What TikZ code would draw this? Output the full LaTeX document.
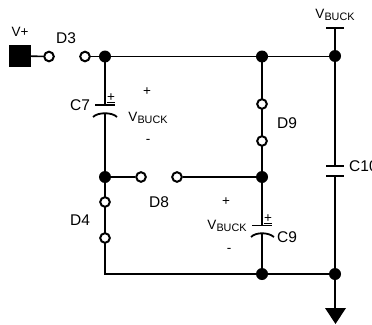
\documentclass[tikz,border=0pt]{standalone}
\usepackage{fontspec}
\setmainfont{Liberation Sans}
\newcommand{\vbuck}{V\raisebox{-2.5pt}{\fontsize{10.8}{12}\selectfont BUCK}}
\begin{document}
\begin{tikzpicture}[x=1pt,y=-1pt,
  wire/.style={line width=1.6pt},
  plate/.style={line width=1.8pt},
  dot/.style={circle,fill=black,draw=none,minimum size=12pt,inner sep=0pt},
  pin/.style={circle,fill=white,draw=black,line width=2pt,minimum size=9.6pt,inner sep=0pt},
  lab/.style={inner sep=0pt,font=\fontsize{15.5}{17}\selectfont},
  small/.style={inner sep=0pt,font=\fontsize{13.5}{15}\selectfont},
  sq/.style={fill=black,draw=none,minimum size=22pt,inner sep=0pt},
  gnd/.style={fill=black,draw=none},
  pol/.style={line width=0.9pt}]
\useasboundingbox (0,0) rectangle (372,324);
\clip (0,0) rectangle (372,324);
% junctions
\coordinate (a) at (105,56.5);
\coordinate (b) at (262,56.5);
\coordinate (c) at (335,56);
\coordinate (d) at (105,177);
\coordinate (e) at (262,177);
\coordinate (f) at (262,274);
\coordinate (g) at (335,274);
\coordinate (h) at (105,274);
\coordinate (vtop) at (335,28);
\coordinate (gtop) at (335,308);
% capacitor terminals
\coordinate (c7a) at (105,105); \coordinate (c7b) at (105,113);
\coordinate (c9a) at (262,225.5); \coordinate (c9b) at (262,233);
\coordinate (c10a) at (335,166); \coordinate (c10b) at (335,176);
% wires
\draw[wire] (a) -- (b) -- (335,56.5);
\draw[wire] (vtop) -- (c) -- (c10a);
\draw[wire] (c10b) -- (g) -- (gtop);
\draw[wire] (a) -- (c7a);
\draw[wire] (c7b) -- (d);
\draw[wire] (d) -- (h) -- (f) -- (g);
\draw[wire] (b) -- (e) -- (c9a);
\draw[wire] (c9b) -- (f);
\draw[plate] (326,28) -- (344,28);
% pins
\node[sq] (src) at (20,56) {};
\node[pin] (d3a) at (49,56.5) {};
\node[pin] (d3b) at (85,56.5) {};
\node[pin] (d9a) at (262,104) {};
\node[pin] (d9b) at (262,141) {};
\node[pin] (d8a) at (141,177) {};
\node[pin] (d8b) at (177,177) {};
\node[pin] (d4a) at (105,202) {};
\node[pin] (d4b) at (105,238) {};
\draw[wire] (src) -- (d3a);
\draw[wire] (d3b) -- (a);
\draw[wire] (d) -- (d8a);
\draw[wire] (d8b) -- (e);
% dots
\foreach \n in {a,b,c,d,e,f,g} \node[dot] at (\n) {};
% plates
\draw[plate] (95,105) -- (115,105);
\draw[plate] (93,117) .. controls (98,112) and (112,112) .. (117,117);
\draw[plate] (252,225.5) -- (272,225.5);
\draw[plate] (251,237) .. controls (256,232) and (268,232) .. (274,237);
\draw[plate] (326,166) -- (344,166);
\draw[plate] (326,176) -- (344,176);
% ground
\fill[gnd] (325,308) -- (346,308) -- (335.5,324) -- cycle;
% text
\node[small] (tv) at (20,32) {V+};
\node[lab] (td3) at (66,38) {D3};
\node[lab] (tc7) at (80,105) {C7};
\node[small] at (111,97.5) {+};
\draw[pol] (107,102) -- (115,102);
\node[small] at (147,92) {+};
\node[small] at (148,118) {\vbuck};
\node[small] at (148,141) {-};
\node[small] at (335,15) {\vbuck};
\node[lab] at (287,123) {D9};
\node[lab,anchor=west] at (349,166) {C10};
\node[lab] at (159,202) {D8};
\node[lab] at (80,220) {D4};
\node[small] at (226,202) {+};
\node[small] at (227,226) {\vbuck};
\node[small] at (229,250) {-};
\node[small] at (268,219) {+};
\draw[pol] (264,223) -- (272,223);
\node[lab] at (287,237) {C9};
\end{tikzpicture}
\end{document}
